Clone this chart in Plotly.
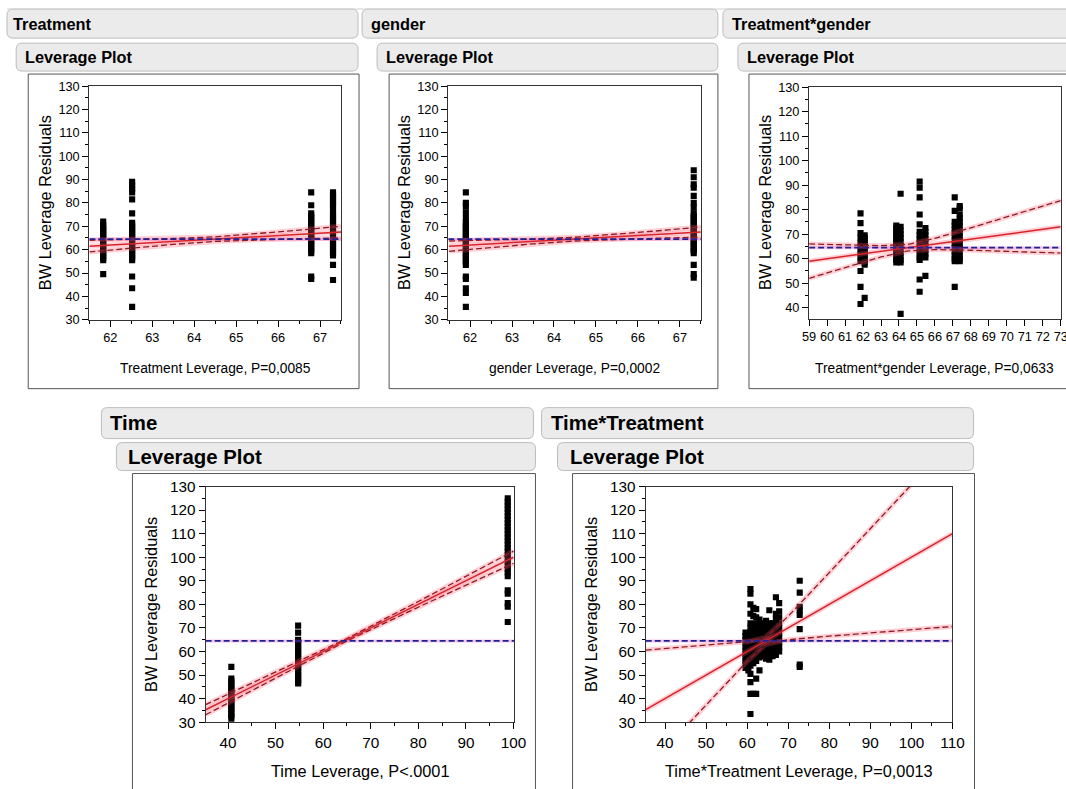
import math
import plotly.graph_objects as go

W, H = 1066, 789          # target picture size
OFF = 8                   # default page margin of the html body
S = 0.98                  # page-to-picture scale observed in the capture
K = 1 / S
FW = math.ceil(W / S) - OFF
FH = math.ceil(H / S) - OFF
FONT = "Liberation Sans, Arial, sans-serif"

# ---------------- data ----------------
# Panel: Treatment
trt_x_levels = [61.83, 62.52, 66.79, 67.31]
trt_y_a = [72, 70.5, 69.5, 68.5, 67.5, 66.5, 65.5, 64.5, 63.5, 62.5, 61.5, 60.5, 59.5, 58.5, 57.5, 56.5, 55.5, 49.5]
trt_y_b = [89, 87.5, 86, 84.5, 81.5, 75.5, 71.5, 70.5, 69.5, 68.5, 67.5, 66.5, 65.5, 64.5, 63.5, 62.5, 61.5,
           60.5, 59.5, 58.5, 57.5, 56.5, 55.5, 48.5, 43.5, 35.5]
trt_y_c = [84.5, 79, 75.5, 74.5, 73.5, 72.5, 71.5, 70.5, 69.5, 68.5, 67.5, 66.5, 65.5, 64.5, 63.5, 62.5, 61.5,
           60.5, 59.5, 58.5, 48.5, 47.5]
trt_y_d = [84.5, 83.5, 82.5, 81.5, 80.5, 79.5, 78.5, 77, 75.5, 74.5, 73.5, 72.5, 71.5, 70.5, 69.5, 68.5, 67.5,
           66.5, 65.5, 64.5, 63.5, 62.5, 61.5, 60.5, 59.5, 58.5, 57.5, 53.5, 47]
trt_line_x = [61.5, 62.5, 63.5, 64.5, 65.5, 66.5, 67.5]
trt_upper = [64.0, 64.33, 64.76, 65.5, 66.76, 68.33, 70.0]
trt_lower = [59.0, 60.67, 62.24, 63.5, 64.24, 64.67, 65.0]
trt_mean = 64.5

# Panel: gender
gen_x_levels = [61.9, 67.33]
gen_y_a = [84.5, 80, 78.5, 76, 73.5, 71.5, 70.5, 69.5, 68.5, 67.5, 66.5, 65.5, 64.5, 63.5, 62.5, 61.5, 60.5,
           59.5, 58.5, 57.5, 56.5, 55.5, 54.5, 53.5, 48.5, 47.5, 43.5, 41.5, 35.5]
gen_y_b = [94, 91, 88, 86.5, 83, 80, 78, 75.5, 74.5, 73.5, 72.5, 71.5, 70.5, 69.5, 68.5, 67.5, 66.5, 65.5,
           64.5, 63.5, 62.5, 61.5, 60.5, 59.5, 58.5, 53.5, 49.5, 48]
gen_line_x = [61.5, 62.5, 63.5, 64.5, 65.5, 66.5, 67.5]
gen_upper = [63.7, 64.08, 64.55, 65.3, 66.55, 68.08, 69.7]
gen_lower = [59.3, 60.92, 62.45, 63.7, 64.45, 64.92, 65.3]
gen_mean = 64.5

# Panel: Treatment*gender
tg_x_levels = [61.86, 62.09, 63.85, 64.09, 65.15, 65.47, 67.1, 67.38]
tg_y_a = [78.5, 74.5, 70.5, 68.5, 66.5, 65, 63.5, 62, 60.5, 59, 55, 48.5, 41.5]
tg_y_b = [69.5, 68.5, 67.5, 66.5, 65.5, 64.5, 63.5, 62.5, 61.5, 60.5, 59.5, 58.5, 57.5, 44]
tg_y_c = [73.5, 72.5, 71.5, 70.5, 69.5, 68.5, 67.5, 66.5, 65.5, 64.5, 63.5, 62.5, 61.5, 60.5, 59.5, 58.5]
tg_y_d = [86.5, 73, 71.5, 70, 68.5, 67, 65.5, 64, 62.5, 61, 59.5, 58.5, 37.5]
tg_y_e = [91.5, 89, 85, 78, 74, 71, 69.5, 68, 66.5, 65, 63.5, 62, 60.5, 59.5, 51.5, 46.5]
tg_y_f = [72.5, 71, 69.5, 68, 66.5, 65, 63.5, 62, 60.5, 53]
tg_y_g = [85, 79.5, 75, 73.5, 72, 70.5, 69, 67.5, 66, 64.5, 63, 61.5, 60, 59, 48.5]
tg_y_h = [81.5, 80.5, 78, 76.5, 75, 73.5, 72, 70.5, 69, 67.5, 66, 64.5, 63, 61.5, 60, 59]
tg_line_x = [59, 61, 63, 64.5, 66, 68, 70, 73]
tg_upper = [66.0, 65.57, 65.30, 65.84, 68.30, 72.57, 77.0, 83.7]
tg_lower = [52.0, 56.43, 60.70, 63.16, 63.70, 63.43, 63.0, 62.3]
tg_mean = 64.5

# Panel: Time
time_x_levels = [40.7, 54.74, 98.8]
time_y_a = [53.5, 48.5, 47.5, 46.5, 45.5, 44.5, 43.5, 42.5, 41.5, 40.5, 39.5, 38.5, 37.5, 36.5, 35.5, 34.5,
            33.5, 32.5, 31.5]
time_y_b = [71, 68, 65, 64, 63, 62, 61, 60, 59, 58, 57, 56, 55, 54, 53, 52, 51, 50, 49, 48, 47, 46.5]
time_y_c = [125, 123.5, 122, 120.5, 119, 117.5, 116, 114.5, 113, 111.5, 110, 108.5, 107, 105.5, 104, 102.5,
            101, 99.5, 98, 96.5, 95, 93.5, 92, 86, 84.5, 80.5, 79, 72.5]
time_line_x = [35.3, 50, 64.5, 80, 100]
time_upper = [37.44, 51.15, 65.0, 81.21, 102.58]
time_lower = [33.16, 48.85, 64.0, 78.79, 97.42]
time_mean = 64.5

# Panel: Time*Treatment
tt_x_levels = [59.6, 60.3, 60.8, 61.5, 62.2, 63.0, 63.8, 64.6, 65.4, 66.2, 67.0, 67.8, 72.8]
tt_y_a = [68, 66.5, 65, 63.5, 62, 60.5, 59, 57.5, 56, 54.5, 53]
tt_y_b = [67, 64, 61, 58, 55, 52]
tt_y_c = [86.5, 84.5, 80, 76, 72, 70, 68, 66, 64, 62, 60, 58, 56, 54, 50.5, 47, 42, 33.5]
tt_y_d = [78.5, 75, 71, 69, 67, 65, 63, 61, 59, 57, 55, 42]
tt_y_e = [78, 74.5, 72, 70, 68, 66, 64, 62, 60, 58, 56, 48.5, 42]
tt_y_f = [73.5, 71.5, 69.5, 67.5, 65.5, 63.5, 61.5, 59.5, 57.5, 52]
tt_y_g = [72, 70, 68, 66, 64, 62, 60, 58]
tt_y_h = [73, 71, 69, 67, 65, 63, 61, 59, 57]
tt_y_i = [77.5, 72, 70, 68, 66, 64, 62, 60, 58, 56.5]
tt_y_j = [72, 70, 68, 66, 64, 62, 60, 58]
tt_y_k = [83, 76, 74, 72, 70, 68, 66, 64, 62, 60, 58.5]
tt_y_l = [80.5, 77, 74.5, 72, 70, 68, 66, 64, 62, 60]
tt_y_m = [90, 85, 79, 77.5, 75.5, 69.5, 54.5, 53.5]
tt_line_x = [35.3, 40, 46, 55, 60, 64.5, 70, 80, 90, 100, 110]
tt_upper = [60.6, 61.24, 62.07, 63.35, 64.17, 66.0, 74.98, 93.49, 112.1, 130.74, 149.38]
tt_lower = [10.0, 18.76, 29.93, 46.65, 55.83, 63.0, 65.02, 66.51, 67.9, 69.26, 70.62]
tt_mean = 64.5

titles = ["Treatment", "gender", "Treatment*gender", "Time", "Time*Treatment"]
x_titles = ["Treatment Leverage, P=0,0085", "gender Leverage, P=0,0002",
            "Treatment*gender Leverage, P=0,0633", "Time Leverage, P<.0001",
            "Time*Treatment Leverage, P=0,0013"]
y_title = "BW Leverage Residuals"


def flat(levels, lists):
    xs, ys = [], []
    for lv, vals in zip(levels, lists):
        xs += [lv] * len(vals)
        ys += list(vals)
    return xs, ys


panels = [
    dict(pts=flat(trt_x_levels, [trt_y_a, trt_y_b, trt_y_c, trt_y_d]), lx=trt_line_x, up=trt_upper,
         lo=trt_lower, mean=trt_mean, xr=[61.5, 67.5], yr=[30, 130], xd=1, xm=0.5, y0=30,
         box=(90, 341, 85, 319), row=1),
    dict(pts=flat(gen_x_levels, [gen_y_a, gen_y_b]), lx=gen_line_x, up=gen_upper, lo=gen_lower,
         mean=gen_mean, xr=[61.48, 67.5], yr=[30, 130], xd=1, xm=0.5, y0=30,
         box=(448, 700, 85, 319), row=1),
    dict(pts=flat(tg_x_levels, [tg_y_a, tg_y_b, tg_y_c, tg_y_d, tg_y_e, tg_y_f, tg_y_g, tg_y_h]),
         lx=tg_line_x, up=tg_upper, lo=tg_lower, mean=tg_mean, xr=[59, 73], yr=[35.5, 130], xd=1, xm=None,
         y0=40, box=(808, 1059, 86, 318), row=1),
    dict(pts=flat(time_x_levels, [time_y_a, time_y_b, time_y_c]), lx=time_line_x, up=time_upper,
         lo=time_lower, mean=time_mean, xr=[35.3, 100.2], yr=[30, 130], xd=10, xm=5, y0=30,
         box=(206, 514, 486, 722), row=2),
    dict(pts=flat(tt_x_levels, [tt_y_a, tt_y_b, tt_y_c, tt_y_d, tt_y_e, tt_y_f, tt_y_g, tt_y_h, tt_y_i,
                                tt_y_j, tt_y_k, tt_y_l, tt_y_m]),
         lx=tt_line_x, up=tt_upper, lo=tt_lower, mean=tt_mean, xr=[35.3, 110], yr=[30, 130], xd=10, xm=5,
         y0=30, box=(645, 951, 486, 722), row=2),
]

fig = go.Figure()
layout = dict(width=FW, height=FH, margin=dict(l=0, r=0, t=0, b=0), paper_bgcolor="white",
              plot_bgcolor="white", showlegend=False, shapes=[], annotations=[])


def clamp(v):
    return max(0.0, min(1.0, v))


def PX(p):
    return clamp((p * K - OFF) / FW)


def PY(p):
    return clamp(1 - (p * K - OFF) / FH)


for i, P in enumerate(panels, start=1):
    sx = "" if i == 1 else str(i)
    xref, yref = "x" + sx, "y" + sx
    l, r, t, b = P["box"]
    tick_size = (12.5 if P["row"] == 1 else 15) * K
    xa = dict(domain=[PX(l), PX(r)], range=P["xr"], anchor=yref, tickmode="linear", tick0=0,
              dtick=P["xd"], ticks="outside", ticklen=6 * K, tickcolor="black", showline=True,
              linecolor="#333", linewidth=1, mirror=True, showgrid=False, zeroline=False, tickangle=0,
              tickfont=dict(family=FONT, size=tick_size, color="black"), fixedrange=True)
    if P["xm"]:
        xa["minor"] = dict(dtick=P["xm"], tick0=0, ticks="outside", ticklen=3 * K, tickcolor="black",
                           showgrid=False)
    ya = dict(domain=[PY(b), PY(t)], range=P["yr"], anchor=xref, tickmode="linear",
              tick0=P["y0"], dtick=10, ticks="outside", ticklen=6 * K, tickcolor="black", showline=True,
              linecolor="#333", linewidth=1, mirror=True, showgrid=False, zeroline=False,
              tickfont=dict(family=FONT, size=tick_size, color="black"), fixedrange=True,
              minor=dict(dtick=5, tick0=0, ticks="outside", ticklen=3 * K, tickcolor="black",
                         showgrid=False))
    layout["xaxis" + sx] = xa
    layout["yaxis" + sx] = ya

    xs, ys = P["pts"]
    fig.add_trace(go.Scatter(x=xs, y=ys, mode="markers", xaxis=xref, yaxis=yref,
                             marker=dict(symbol="square", size=6 * K, color="black"), hoverinfo="skip"))
    lx = P["lx"]
    ends = [P["xr"][0], P["xr"][1]]
    mean_y = [P["mean"], P["mean"]]
    # halos
    for yy in (P["up"], P["lo"], lx):
        fig.add_trace(go.Scatter(x=lx, y=yy, mode="lines", xaxis=xref, yaxis=yref,
                                 line=dict(color="rgba(255,90,110,0.28)", width=5), hoverinfo="skip"))
    fig.add_trace(go.Scatter(x=ends, y=mean_y, mode="lines", xaxis=xref, yaxis=yref,
                             line=dict(color="rgba(225,70,200,0.3)", width=3), hoverinfo="skip"))
    for yy in (P["up"], P["lo"]):
        fig.add_trace(go.Scatter(x=lx, y=yy, mode="lines", xaxis=xref, yaxis=yref,
                                 line=dict(color="#8e1b24", width=1.3, dash="6px,3px"), hoverinfo="skip"))
    fig.add_trace(go.Scatter(x=lx, y=lx, mode="lines", xaxis=xref, yaxis=yref,
                             line=dict(color="#d8232a", width=1.5), hoverinfo="skip"))
    fig.add_trace(go.Scatter(x=ends, y=mean_y, mode="lines", xaxis=xref, yaxis=yref,
                             line=dict(color="#22228f", width=1.6, dash="6px,3px"), hoverinfo="skip"))

    # axis titles
    if P["row"] == 1:
        ytx, xty, xts, yts = l - 44, 368, 13.5, 16
    else:
        ytx, xty, xts, yts = l - 54, 771, 16, 16
    layout["annotations"].append(dict(x=PX(ytx), y=PY((t + b) / 2), xref="paper", yref="paper",
                                      xanchor="center", yanchor="middle",
                                      text=y_title, textangle=-90, showarrow=False,
                                      font=dict(family=FONT, size=yts * K, color="black")))
    layout["annotations"].append(dict(x=PX((l + r) / 2), y=PY(xty), xref="paper", yref="paper",
                                      xanchor="center", yanchor="middle",
                                      text=x_titles[i - 1], showarrow=False,
                                      font=dict(family=FONT, size=xts * K, color="black")))


def header_path(x0, y0, x1, y1, open_right=False, r=6):
    X0, X1 = PX(x0), PX(x1)
    Yt, Yb = PY(y0), PY(y1)
    rx, ry = r * K / FW, r * K / FH
    if open_right:
        return (f"M {X1},{Yt} L {X0+rx},{Yt} Q {X0},{Yt} {X0},{Yt-ry} L {X0},{Yb+ry} "
                f"Q {X0},{Yb} {X0+rx},{Yb} L {X1},{Yb}")
    return (f"M {X0+rx},{Yt} L {X1-rx},{Yt} Q {X1},{Yt} {X1},{Yt-ry} L {X1},{Yb+ry} "
            f"Q {X1},{Yb} {X1-rx},{Yb} L {X0+rx},{Yb} Q {X0},{Yb} {X0},{Yb+ry} L {X0},{Yt-ry} "
            f"Q {X0},{Yt} {X0+rx},{Yt} Z")


# header bars: (x0, x1, y0, y1, text_left, title, fontsize, open_right)
headers = [
    (6, 358, 8, 37, 12, 0, 16, False), (17, 358, 42, 70, 24, None, 16, False),
    (362, 717, 8, 37, 369, 1, 16, False), (377, 717, 42, 70, 384, None, 16, False),
    (722, 1066, 8, 37, 729, 2, 16, True), (737, 1066, 42, 70, 744, None, 16, True),
    (102, 533, 407, 438, 109, 3, 20, False), (117, 535, 442, 470, 127, None, 20, False),
    (541, 972, 407, 438, 549, 4, 20, False), (557, 972, 442, 470, 567, None, 20, False),
]
for x0, x1, y0, y1, tl, ti, fs, op in headers:
    layout["shapes"].append(dict(type="path", xref="paper", yref="paper",
                                 path=header_path(x0, y0, x1, y1, op),
                                 fillcolor="#ebebeb", line=dict(color="#bcbcbc", width=1), layer="above"))
    label = titles[ti] if ti is not None else "Leverage Plot"
    layout["annotations"].append(dict(x=PX(tl), y=PY((y0 + y1) / 2), xref="paper", yref="paper",
                                      xanchor="left", yanchor="middle", text="<b>" + label + "</b>",
                                      showarrow=False, font=dict(family=FONT, size=fs * K, color="black")))

# thin rule across the top of the picture
layout["shapes"].append(dict(type="line", xref="paper", yref="paper", x0=PX(0), x1=PX(W), y0=PY(4),
                             y1=PY(4), line=dict(color="#d0d0d0", width=1)))

# outer frames, drawn as open outlines where they run past the picture edge
frames = [
    [(359, 388), (29, 388), (29, 73), (359, 73), (359, 388)],
    [(717, 388), (389, 388), (389, 73), (717, 73), (717, 388)],
    [(1066, 388), (748, 388), (748, 73), (1066, 73)],
    [(133, 789), (133, 473), (535, 473), (535, 789)],
    [(572, 789), (572, 473), (973, 473), (973, 789)],
]
for pts in frames:
    path = "M " + " L ".join(f"{PX(x)},{PY(y)}" for x, y in pts)
    layout["shapes"].append(dict(type="path", xref="paper", yref="paper", path=path,
                                 line=dict(color="#555", width=1), layer="above"))

fig.update_layout(**layout)
fig.write_html("out.html")
